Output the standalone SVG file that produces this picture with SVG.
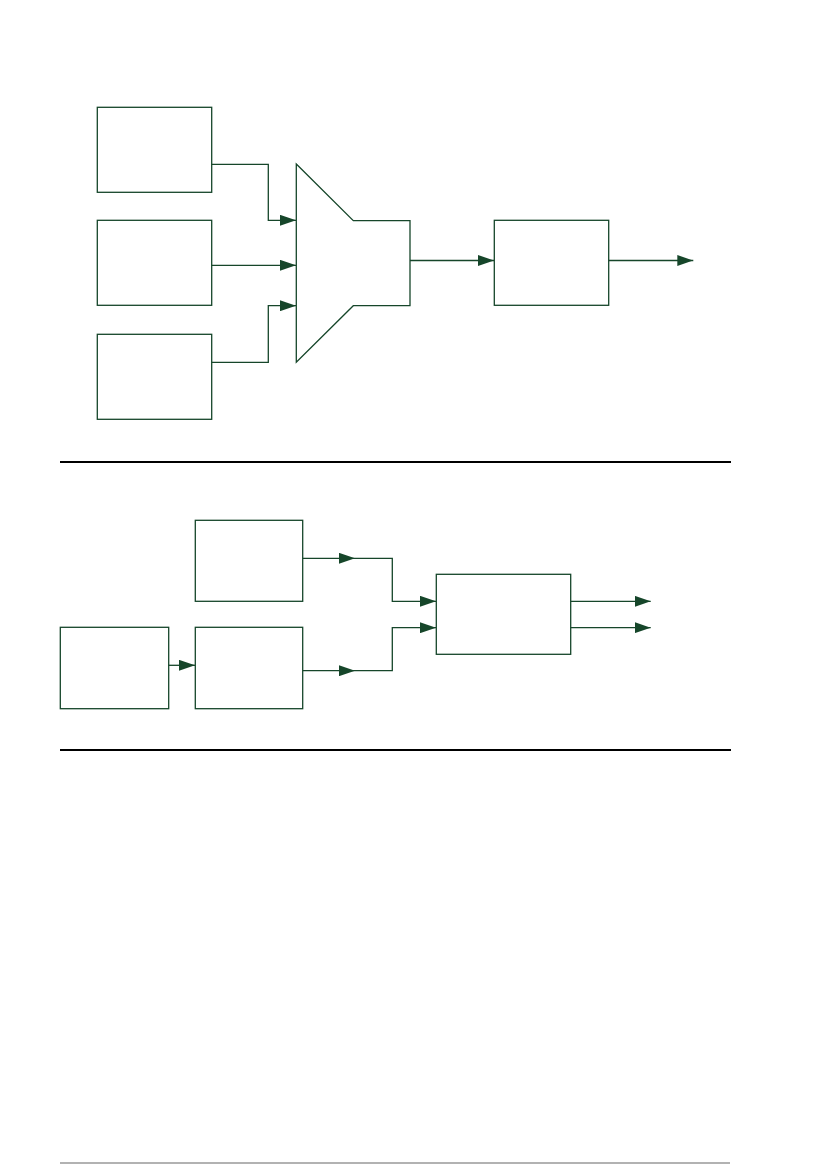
<svg xmlns="http://www.w3.org/2000/svg" width="834" height="1165" viewBox="0 0 834 1165">
<defs>
<style>
.n{fill:#fff;stroke:#16462a;stroke-width:1.3}
.c{fill:none;stroke:#16462a;stroke-width:1.3}
.a{fill:#16462a;stroke:none}
.sep{stroke:#000;stroke-width:2.2}
</style>
<marker id="ah" markerWidth="16" markerHeight="11" refX="16" refY="5.5" orient="auto" markerUnits="userSpaceOnUse">
<path d="M0,0 L16,5.5 L0,11 Z" class="a"/>
</marker>
</defs>
<rect width="834" height="1165" fill="#fff"/>
<g id="top-box1"><rect class="n" x="97.3" y="107.3" width="114.4" height="85"/></g>
<g id="top-box2"><rect class="n" x="97.3" y="220.3" width="114.4" height="85"/></g>
<g id="top-box3"><rect class="n" x="97.3" y="334.3" width="114.4" height="85"/></g>
<g id="mux"><path class="n" d="M296.3,164 L353.3,220.7 L410,220.7 L410,305.7 L353.3,305.7 L296.3,362.3 Z"/></g>
<g id="top-box4"><rect class="n" x="494.3" y="220.3" width="114.4" height="85"/></g>
<g id="bot-boxA"><rect class="n" x="60.3" y="627.3" width="108.4" height="81.4"/></g>
<g id="bot-boxB"><rect class="n" x="195.3" y="520.3" width="107.4" height="81"/></g>
<g id="bot-boxC"><rect class="n" x="195.3" y="627.3" width="107.4" height="81.4"/></g>
<g id="bot-boxD"><rect class="n" x="436.3" y="574.3" width="134.4" height="80"/></g>
<g id="connectors">
<path class="c" d="M211.7,164.3 H268.3 V220.3 H296" marker-end="url(#ah)"/>
<path class="c" d="M211.7,265.3 H296" marker-end="url(#ah)"/>
<path class="c" d="M211.7,362.3 H268.3 V305.7 H296" marker-end="url(#ah)"/>
<path class="c" d="M410,260.5 H494" marker-end="url(#ah)"/>
<path class="c" d="M608.7,260.5 H693.3" marker-end="url(#ah)"/>
<path class="c" d="M168.7,665.3 H195" marker-end="url(#ah)"/>
<path class="c" d="M302.7,558.3 H355" marker-end="url(#ah)"/>
<path class="c" d="M355,558.3 H392.3 V601.3 H436" marker-end="url(#ah)"/>
<path class="c" d="M302.7,670.7 H355" marker-end="url(#ah)"/>
<path class="c" d="M355,670.7 H392.3 V627.7 H436" marker-end="url(#ah)"/>
<path class="c" d="M570.7,601.3 H650.7" marker-end="url(#ah)"/>
<path class="c" d="M570.7,627.7 H650.7" marker-end="url(#ah)"/>
</g>
<g id="separators">
<line class="sep" x1="60" y1="462" x2="731" y2="462"/>
<line class="sep" x1="60" y1="750" x2="731" y2="750"/>
<line x1="60" y1="1163" x2="730" y2="1163" stroke="#999" stroke-width="1.5"/>
</g>
</svg>
